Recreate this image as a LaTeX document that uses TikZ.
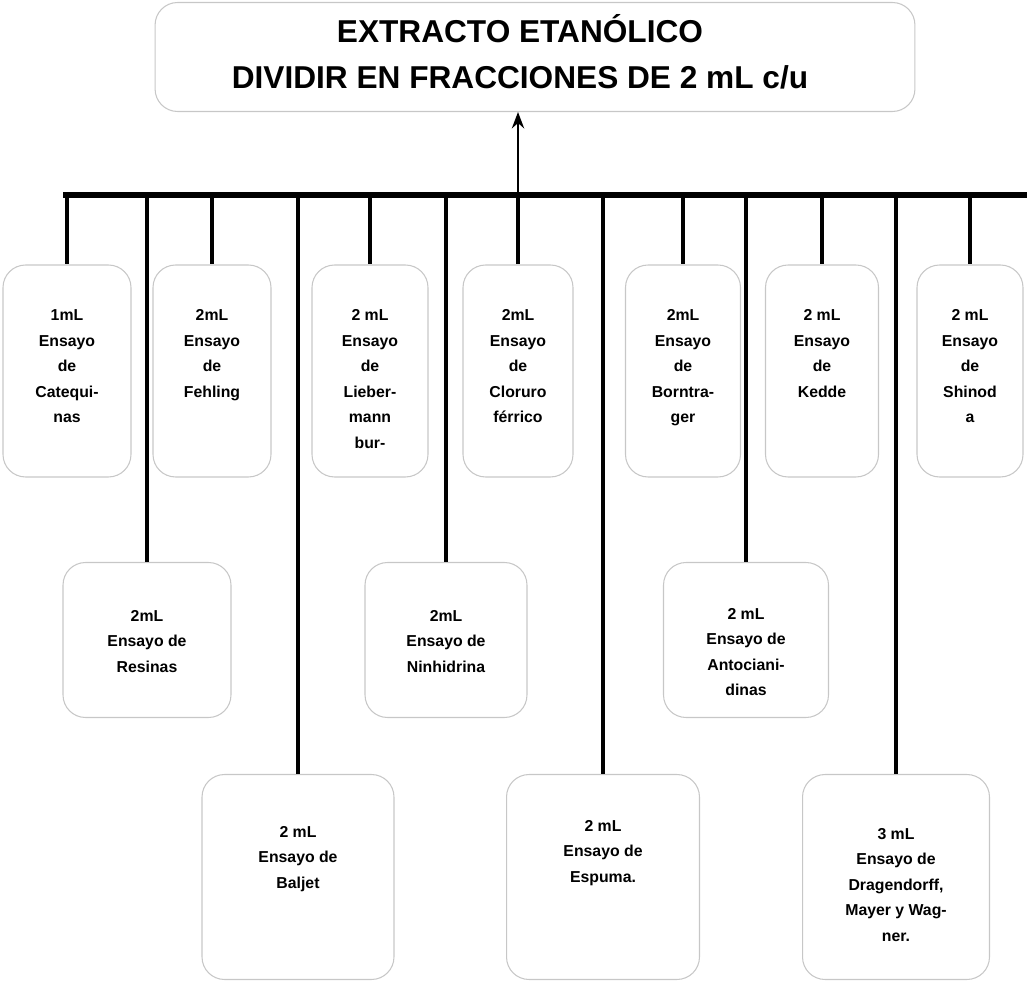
\documentclass[tikz,border=0pt]{standalone}
\usepackage{fontspec}
\setmainfont{Liberation Sans}
\usetikzlibrary{arrows.meta,positioning}

\begin{document}
\begin{tikzpicture}[x=0.02cm, y=-0.02cm, >=Stealth,
  caja/.style={draw=black!22, line width=0.6pt, rounded corners=0.45cm, inner sep=0pt},
  fila1/.style={caja, minimum height=4.24cm},
  fila2/.style={caja, minimum height=3.1cm},
  fila3/.style={caja, minimum height=4.1cm},
  ensayo/.style={anchor=north, align=center, inner sep=0pt, font=\bfseries\fontsize{9}{14.5}\selectfont},
  bajada/.style={line width=1.8pt},
  barra/.style={line width=3.8pt}]
  \useasboundingbox (0,0) rectangle (1027,982);

  \node[caja, minimum width=15.2cm, minimum height=2.18cm] (extracto) at (535,57) {};
  \node[align=center, font=\bfseries\fontsize{18}{26}\selectfont] (titulo) at (520,52) {EXTRACTO ETANÓLICO\\DIVIDIR EN FRACCIONES DE 2 mL c/u};

  \node[fila1, minimum width=2.56cm] (cateq) at (67,371) {};
  \node[fila1, minimum width=2.36cm] (fehling) at (212,371) {};
  \node[fila1, minimum width=2.32cm] (lieber) at (370,371) {};
  \node[fila1, minimum width=2.2cm] (cloruro) at (518,371) {};
  \node[fila1, minimum width=2.3cm] (borntr) at (683,371) {};
  \node[fila1, minimum width=2.26cm] (kedde) at (822,371) {};
  \node[fila1, minimum width=2.12cm] (shinoda) at (970,371) {};

  \node[fila2, minimum width=3.36cm] (resinas) at (147,640) {};
  \node[fila2, minimum width=3.24cm] (ninhid) at (446,640) {};
  \node[fila2, minimum width=3.3cm] (antoc) at (746,640) {};

  \node[fila3, minimum width=3.84cm] (baljet) at (298,877) {};
  \node[fila3, minimum width=3.86cm] (espuma) at (603,877) {};
  \node[fila3, minimum width=3.74cm] (dragen) at (896,877) {};

  \node[ensayo] (t-cateq) at ([yshift=-0.9cm]cateq.north) {1mL\\Ensayo\\de\\Catequi-\\nas};
  \node[ensayo] (t-fehling) at ([yshift=-0.9cm]fehling.north) {2mL\\Ensayo\\de\\Fehling};
  \node[ensayo] (t-lieber) at ([yshift=-0.9cm]lieber.north) {2 mL\\Ensayo\\de\\Lieber-\\mann\\bur-};
  \node[ensayo] (t-cloruro) at ([yshift=-0.9cm]cloruro.north) {2mL\\Ensayo\\de\\Cloruro\\férrico};
  \node[ensayo] (t-borntr) at ([yshift=-0.9cm]borntr.north) {2mL\\Ensayo\\de\\Borntra-\\ger};
  \node[ensayo] (t-kedde) at ([yshift=-0.9cm]kedde.north) {2 mL\\Ensayo\\de\\Kedde};
  \node[ensayo] (t-shinoda) at ([yshift=-0.9cm]shinoda.north) {2 mL\\Ensayo\\de\\Shinod\\a};

  \node[ensayo] (t-resinas) at ([yshift=-0.96cm]resinas.north) {2mL\\Ensayo de\\Resinas};
  \node[ensayo] (t-ninhid) at ([yshift=-0.96cm]ninhid.north) {2mL\\Ensayo de\\Ninhidrina};
  \node[ensayo] (t-antoc) at ([yshift=-0.92cm]antoc.north) {2 mL\\Ensayo de\\Antociani-\\dinas};

  \node[ensayo] (t-baljet) at ([yshift=-1.04cm]baljet.north) {2 mL\\Ensayo de\\Baljet};
  \node[ensayo] (t-espuma) at ([yshift=-0.92cm]espuma.north) {2 mL\\Ensayo de\\Espuma.};
  \node[ensayo] (t-dragen) at ([yshift=-1.08cm]dragen.north) {3 mL\\Ensayo de\\Dragendorff,\\Mayer y Wag-\\ner.};

  \coordinate (oeste) at (63,195);
  \coordinate (este) at (1027,195);
  \coordinate (centro) at (518,195);
  \draw[barra] (oeste) -- (este);
  \draw[->, line width=1.4pt] (centro) -- (centro |- extracto.south);
  \foreach \n in {cateq,fehling,lieber,cloruro,borntr,kedde,shinoda,resinas,ninhid,antoc,baljet,espuma,dragen}
    \draw[bajada] (\n.north |- oeste) -- (\n.north);
\end{tikzpicture}
\end{document}
